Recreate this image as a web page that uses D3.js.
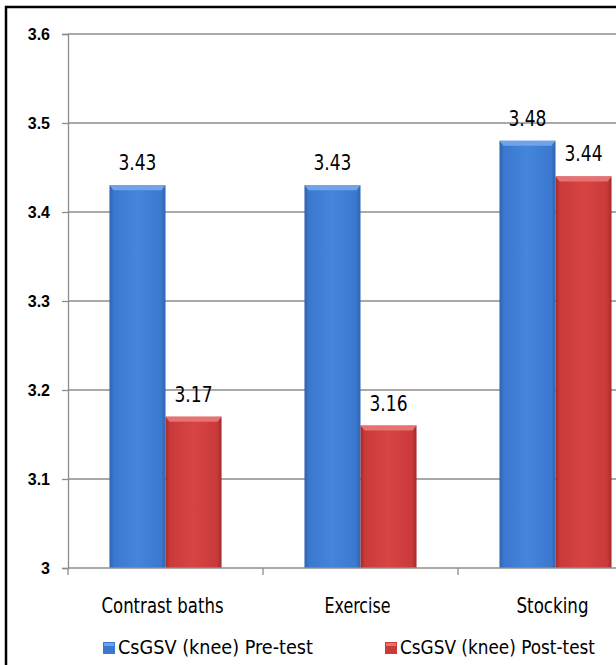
<!DOCTYPE html>
<html>
<head>
<meta charset="utf-8">
<script src="https://cdn.jsdelivr.net/npm/d3@7"></script>
<style>
  body { margin: 0; background: #fff; }
  svg { display: block; }
</style>
</head>
<body>
<div id="chart"></div>
<script>
// values
var categories = ['Contrast baths', 'Exercise', 'Stocking'];
var seriesNames = ['CsGSV (knee) Pre-test', 'CsGSV (knee) Post-test'];
var preTest = [3.43, 3.43, 3.48];
var postTest = [3.17, 3.16, 3.44];
var yTicks = [3, 3.1, 3.2, 3.3, 3.4, 3.5, 3.6];

var W = 616, H = 665;
// plot continues past the right edge, like the cropped original
var plot = {left: 68, right: 653, top: 34, bottom: 568};
var narrow = '"Liberation Sans Narrow", "DejaVu Sans Condensed", "DejaVu Sans", sans-serif';

var svg = d3.select('#chart').append('svg')
  .attr('width', W).attr('height', H);

var defs = svg.append('defs');
function barGrad(id, dark, mid, light) {
  var g = defs.append('linearGradient').attr('id', id)
    .attr('x1', 0).attr('x2', 1).attr('y1', 0).attr('y2', 0);
  g.append('stop').attr('offset', 0).attr('stop-color', dark);
  g.append('stop').attr('offset', 0.08).attr('stop-color', mid);
  g.append('stop').attr('offset', 0.5).attr('stop-color', light);
  g.append('stop').attr('offset', 0.92).attr('stop-color', mid);
  g.append('stop').attr('offset', 1).attr('stop-color', dark);
}
barGrad('gBlue', '#2f63b0', '#3b78cf', '#4585dc');
barGrad('gRed', '#a42a2a', '#c93a3a', '#d84444');
var colors = ['url(#gBlue)', 'url(#gRed)'];
var topColors = ['#6fa3ea', '#e77272'];
var swatch = ['#3b78cf', '#c93a3a'];

// outer frame
svg.append('rect').attr('x', 6).attr('y', 7).attr('width', W + 20).attr('height', H + 20)
  .attr('fill', 'none').attr('stroke', '#000').attr('stroke-width', 2.5);

var y = d3.scaleLinear().domain([3, 3.6]).range([plot.bottom, plot.top]);
var x0 = d3.scaleBand().domain(categories).range([plot.left, plot.right]).paddingInner(0).paddingOuter(0);
var x1 = d3.scaleBand().domain([0, 1]).range([0, x0.bandwidth()]).paddingOuter(0.74).paddingInner(0);

// gridlines
svg.append('g').selectAll('line').data(yTicks.slice(1)).join('line')
  .attr('x1', plot.left).attr('x2', W)
  .attr('y1', function(d) { return y(d); }).attr('y2', function(d) { return y(d); })
  .attr('stroke', '#8c8c8c').attr('stroke-width', 1.3);

// y axis
var yAxis = svg.append('g').attr('transform', 'translate(' + plot.left + ',0)')
  .call(d3.axisLeft(y).tickValues(yTicks).tickSize(6).tickPadding(12)
    .tickFormat(function(d) { return d === 3 ? '3' : d3.format('.1f')(d); }))
  .attr('font-family', 'Arial, "Liberation Sans", sans-serif')
  .attr('font-size', 16).attr('font-weight', 'bold');
yAxis.select('.domain').attr('stroke', '#8c8c8c').attr('stroke-width', 1.3);
yAxis.selectAll('.tick line').attr('stroke', '#8c8c8c').attr('stroke-width', 1.3);
yAxis.selectAll('.tick text').attr('fill', '#000');

// bars
var groups = svg.append('g').selectAll('g').data(categories).join('g')
  .attr('transform', function(d) { return 'translate(' + x0(d) + ',0)'; });

groups.each(function(c, i) {
  var g = d3.select(this);
  [{s: 0, v: preTest[i]}, {s: 1, v: postTest[i]}].forEach(function(b) {
    var bx = x1(b.s), bw = x1.bandwidth(), by = y(b.v), bh = y(3) - y(b.v);
    g.append('rect').attr('x', bx).attr('y', by).attr('width', bw).attr('height', bh)
      .attr('fill', colors[b.s]);
    // top bevel
    g.append('path')
      .attr('d', 'M' + bx + ',' + by + 'H' + (bx + bw) + 'L' + (bx + bw - 4) + ',' + (by + 5) +
        'H' + (bx + 4) + 'Z')
      .attr('fill', topColors[b.s]);
    g.append('text')
      .attr('x', bx + bw / 2)
      .attr('y', by - 15)
      .attr('text-anchor', 'middle')
      .attr('textLength', 38).attr('lengthAdjust', 'spacingAndGlyphs')
      .style('font-family', narrow)
      .style('font-size', '21px')
      .text(d3.format('.2f')(b.v));
  });
});

// x axis
var xAxis = svg.append('g').attr('transform', 'translate(0,' + plot.bottom + ')');
xAxis.append('line').attr('x1', plot.left).attr('x2', W).attr('y1', 0).attr('y2', 0)
  .attr('stroke', '#8c8c8c').attr('stroke-width', 1.3);
xAxis.selectAll('line.tk').data(categories).join('line').attr('class', 'tk')
  .attr('x1', function(d) { return x0(d); }).attr('x2', function(d) { return x0(d); })
  .attr('y1', 0).attr('y2', 7)
  .attr('stroke', '#8c8c8c').attr('stroke-width', 1.3);
var catWidths = [122, 66, 72];
xAxis.selectAll('text').data(categories).join('text')
  .attr('x', function(d) { return x0(d) + x0.bandwidth() / 2 - 3; })
  .attr('y', 45)
  .attr('text-anchor', 'middle')
  .attr('textLength', function(d, i) { return catWidths[i]; })
  .attr('lengthAdjust', 'spacingAndGlyphs')
  .style('font-family', narrow)
  .style('font-size', '21px')
  .text(function(d) { return d; });

// legend
var legendX = [103, 385];
var legend = svg.append('g').selectAll('g').data(seriesNames).join('g')
  .attr('transform', function(d, i) { return 'translate(' + legendX[i] + ',648)'; });
legend.append('rect').attr('x', 0).attr('y', -6).attr('width', 12).attr('height', 12)
  .attr('fill', function(d, i) { return swatch[i]; });
legend.append('rect').attr('x', 1).attr('y', -5).attr('width', 10).attr('height', 3)
  .attr('fill', function(d, i) { return topColors[i]; });
legend.append('text').attr('x', 15).attr('y', 6)
  .attr('textLength', 195).attr('lengthAdjust', 'spacingAndGlyphs')
  .style('font-family', narrow)
  .style('font-size', '20px')
  .text(function(d) { return d; });
</script>
</body>
</html>
